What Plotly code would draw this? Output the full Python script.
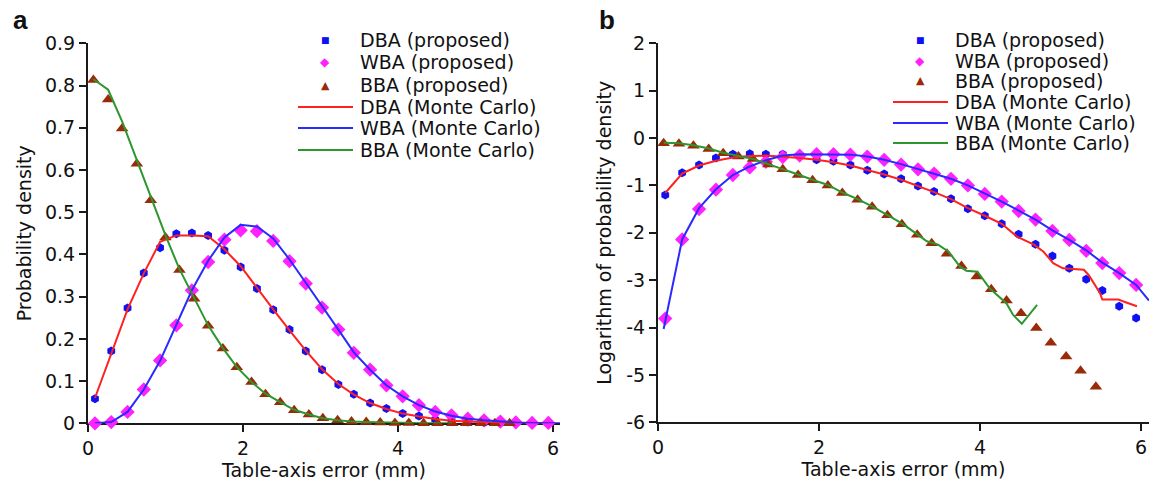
import plotly.graph_objects as go

# ---------------- data ----------------
# bin centres (mm) used by the DBA / WBA estimates
x_dw = [0.09, 0.30, 0.51, 0.72, 0.93, 1.14, 1.34, 1.55, 1.76, 1.97, 2.18, 2.39, 2.60, 2.81, 3.02,
        3.23, 3.43, 3.64, 3.85, 4.06, 4.27, 4.48, 4.69, 4.90, 5.11, 5.32, 5.52, 5.73, 5.94]
# bin centres (mm) used by the BBA estimate
x_bba = [0.07, 0.26, 0.44, 0.63, 0.81, 1.00, 1.18, 1.37, 1.55, 1.74, 1.92, 2.11, 2.29, 2.48, 2.66,
         2.85, 3.03, 3.22, 3.40, 3.59, 3.77, 3.96, 4.14, 4.33, 4.51, 4.70, 4.88, 5.07, 5.25, 5.44]

# (a) probability density
dba_prop = [0.058, 0.171, 0.273, 0.356, 0.416, 0.449, 0.451, 0.445, 0.410, 0.370, 0.319, 0.269, 0.222,
            0.171, 0.127, 0.092, 0.069, 0.048, 0.035, 0.023, 0.017, 0.009, 0.006, 0.003, 0.002, 0.001,
            0.001, 0.0, 0.0]
wba_prop = [0.0, 0.003, 0.027, 0.080, 0.149, 0.232, 0.315, 0.382, 0.435, 0.457, 0.455, 0.432, 0.384,
            0.331, 0.274, 0.222, 0.167, 0.127, 0.090, 0.064, 0.043, 0.027, 0.019, 0.011, 0.007, 0.004,
            0.002, 0.001, 0.001]
bba_prop = [0.813, 0.767, 0.698, 0.615, 0.528, 0.440, 0.363, 0.295, 0.231, 0.177, 0.133, 0.098, 0.069,
            0.050, 0.031, 0.021, 0.012, 0.007, 0.004, 0.003, 0.002, 0.001, 0.001, 0.0, 0.0, 0.0, 0.0,
            0.0, 0.0, 0.0]

dba_mc = [0.060, 0.165, 0.270, 0.355, 0.430, 0.445, 0.445, 0.443, 0.412, 0.372, 0.320, 0.270, 0.220,
          0.172, 0.128, 0.093, 0.068, 0.048, 0.034, 0.023, 0.016, 0.010, 0.006, 0.004, 0.002, 0.001,
          0.001, 0.0, 0.0]
x_wba_mc = x_dw + [6.10]
wba_mc = [0.0, 0.003, 0.027, 0.080, 0.148, 0.232, 0.315, 0.385, 0.440, 0.470, 0.466, 0.438, 0.388,
          0.333, 0.276, 0.222, 0.168, 0.127, 0.090, 0.064, 0.043, 0.028, 0.018, 0.011, 0.007, 0.004,
          0.002, 0.001, 0.001, 0.0]
x_bba_mc = x_bba[:26]
bba_mc = [0.815, 0.790, 0.715, 0.625, 0.535, 0.445, 0.365, 0.295, 0.232, 0.178, 0.133, 0.098, 0.070,
          0.050, 0.032, 0.021, 0.012, 0.007, 0.004, 0.003, 0.002, 0.001, 0.001, 0.0, 0.0, 0.0]

# (b) log10 of probability density
dba_log = [-1.20, -0.73, -0.57, -0.42, -0.34, -0.33, -0.34, -0.34, -0.38, -0.46, -0.49, -0.57, -0.68,
           -0.76, -0.86, -1.01, -1.13, -1.28, -1.49, -1.64, -1.81, -2.03, -2.24, -2.49, -2.75, -2.98,
           -3.22, -3.55, -3.80]
wba_log = [-3.81, -2.14, -1.50, -1.09, -0.78, -0.62, -0.50, -0.40, -0.37, -0.34, -0.34, -0.35, -0.39,
           -0.46, -0.56, -0.66, -0.75, -0.86, -1.00, -1.18, -1.34, -1.54, -1.72, -1.96, -2.15, -2.38,
           -2.64, -2.85, -3.10]
bba_log = [-0.11, -0.12, -0.16, -0.23, -0.32, -0.39, -0.44, -0.56, -0.66, -0.78, -0.89, -1.00, -1.16,
           -1.30, -1.45, -1.63, -1.82, -2.04, -2.22, -2.44, -2.70, -2.92, -3.19, -3.43, -3.70, -4.01,
           -4.32, -4.61, -4.91, -5.25]

x_dba_mc_log = x_dw[:21] + [4.46, 4.58, 4.67, 4.79, 4.91, 5.03, 5.29, 5.35, 5.49, 5.52, 5.72, 5.80, 5.95]
dba_mc_log = [-1.16, -0.75, -0.58, -0.48, -0.41, -0.38, -0.37, -0.39, -0.42, -0.46, -0.51, -0.58, -0.67,
              -0.77, -0.88, -1.01, -1.14, -1.29, -1.48, -1.64, -1.81,
              -2.08, -2.18, -2.25, -2.40, -2.64, -2.75, -2.78, -2.89, -3.27, -3.41, -3.41, -3.46, -3.55]
x_wba_mc_log = [0.07] + x_dw[1:] + [6.10]
wba_mc_log = [-4.03, -2.14, -1.48, -1.08, -0.78, -0.60, -0.47, -0.37, -0.34, -0.34, -0.34, -0.35, -0.39,
              -0.46, -0.55, -0.65, -0.75, -0.86, -1.00, -1.17, -1.34, -1.53, -1.72, -1.95, -2.15, -2.37,
              -2.63, -2.85, -3.10, -3.43]
x_bba_mc_log = x_bba[:17] + [3.17, 3.34, 3.48, 3.61, 3.75, 3.83, 3.97, 4.12, 4.33, 4.41, 4.52, 4.71]
bba_mc_log = [-0.10, -0.11, -0.15, -0.22, -0.31, -0.38, -0.44, -0.55, -0.65, -0.77, -0.88, -0.99, -1.15,
              -1.29, -1.44, -1.62, -1.80,
              -1.97, -2.18, -2.25, -2.40, -2.71, -2.80, -2.82, -3.17, -3.49, -3.73, -3.92, -3.52]

# tick labels
xa_ticks = [0, 2, 4, 6]
ya_ticks = [0, 0.1, 0.2, 0.3, 0.4, 0.5, 0.6, 0.7, 0.8, 0.9]
ya_labels = ["0", "0.1", "0.2", "0.3", "0.4", "0.5", "0.6", "0.7", "0.8", "0.9"]
yb_ticks = [-6, -5, -4, -3, -2, -1, 0, 1, 2]
yb_labels = ["-6", "-5", "-4", "-3", "-2", "-1", "0", "1", "2"]

legend_labels = ["DBA (proposed)", "WBA (proposed)", "BBA (proposed)",
                 "DBA (Monte Carlo)", "WBA (Monte Carlo)", "BBA (Monte Carlo)"]

# ---------------- style ----------------
W, H = 1153, 486
FONT = "DejaVu Sans"
C_DBA_PT, C_WBA_PT, C_BBA_PT = "#1010f5", "#ff22ff", "#9a2a08"
C_DBA_LN, C_WBA_LN, C_BBA_LN = "#ff2020", "#2a2aff", "#2e962e"
AX = "#1a1a1a"

marker_styles = [
    dict(symbol="hexagon", size=9, color=C_DBA_PT),
    dict(symbol="diamond", size=11, color=C_WBA_PT),
    dict(symbol="triangle-up", size=11, color=C_BBA_PT),
]
line_colors = [C_DBA_LN, C_WBA_LN, C_BBA_LN]


def px_x(p):
    return p / W


def px_y(p):
    return 1 - p / H


fig = go.Figure()

panels = [
    dict(xa="x", ya="y",
         pts=[(x_dw, dba_prop), (x_dw, wba_prop), (x_bba, bba_prop)],
         lines=[(x_dw, dba_mc), (x_wba_mc, wba_mc), (x_bba_mc, bba_mc)]),
    dict(xa="x2", ya="y2",
         pts=[(x_dw, dba_log), (x_dw, wba_log), (x_bba, bba_log)],
         lines=[(x_dba_mc_log, dba_mc_log), (x_wba_mc_log, wba_mc_log), (x_bba_mc_log, bba_mc_log)]),
]

for p in panels:
    for (xs, ys), ms in zip(p["pts"], marker_styles):
        fig.add_trace(go.Scatter(x=xs, y=ys, mode="markers", marker=dict(line=dict(width=0), **ms),
                                 xaxis=p["xa"], yaxis=p["ya"], cliponaxis=False, showlegend=False))
    for (xs, ys), c in zip(p["lines"], line_colors):
        fig.add_trace(go.Scatter(x=xs, y=ys, mode="lines", line=dict(color=c, width=2),
                                 xaxis=p["xa"], yaxis=p["ya"], cliponaxis=False, showlegend=False))

axis_common = dict(showline=True, linecolor=AX, linewidth=2.2, ticks="outside", ticklen=7,
                   tickwidth=2, tickcolor=AX, showgrid=False, zeroline=False, automargin=False,
                   layer="below traces", tickfont=dict(family=FONT, size=19, color="#111"))
title_font = dict(family=FONT, size=19, color="#111")

fig.update_layout(
    width=W, height=H, autosize=False,
    margin=dict(l=0, r=0, t=0, b=0),
    paper_bgcolor="white", plot_bgcolor="white",
    showlegend=False,
    xaxis=dict(domain=[px_x(88), px_x(560)], range=[0, 6.09], tickvals=xa_ticks, anchor="y",
               title=dict(text="Table-axis error (mm)", font=title_font, standoff=4), **axis_common),
    yaxis=dict(domain=[px_y(423.3), px_y(43.3)], range=[0, 0.9], tickvals=ya_ticks, ticktext=ya_labels,
               anchor="x", title=dict(text="Probability density", font=title_font, standoff=8),
               **axis_common),
    xaxis2=dict(domain=[px_x(658), px_x(1149)], range=[0, 6.1], tickvals=xa_ticks, anchor="y2",
                title=dict(text="Table-axis error (mm)", font=title_font, standoff=4), **axis_common),
    yaxis2=dict(domain=[px_y(422.3), px_y(43.3)], range=[-6, 2], tickvals=yb_ticks, ticktext=yb_labels,
                anchor="x2", title=dict(text="Logarithm of probability density", font=title_font, standoff=9),
                **axis_common),
)

# panel letters
for letter, (lx, ly) in zip(["a", "b"], [(20, 20), (607, 20)]):
    fig.add_annotation(text=f"<b>{letter}</b>", x=px_x(lx), y=px_y(ly), xref="paper", yref="paper",
                       showarrow=False, xanchor="center", yanchor="middle",
                       font=dict(family="Liberation Sans", size=26, color="#111"))

# legends (marker keys, line keys and labels)
legend_boxes = [
    dict(rows=[40, 62, 85, 107, 128, 150], mk_x=325, txt_x=358, ln=(298, 353)),
    dict(rows=[40, 61, 81, 102, 123, 143], mk_x=920, txt_x=953, ln=(893, 948)),
]
key_glyphs = [("■", 9), ("◆", 12), ("▲", 11)]
for box in legend_boxes:
    for i, label in enumerate(legend_labels):
        ry = box["rows"][i]
        fig.add_annotation(text=label, x=px_x(box["txt_x"]), y=px_y(ry), xref="paper", yref="paper",
                           showarrow=False, xanchor="left", yanchor="middle",
                           font=dict(family=FONT, size=19, color="#111"))
        if i < 3:
            g, s = key_glyphs[i]
            fig.add_annotation(text=g, x=px_x(box["mk_x"]), y=px_y(ry), xref="paper", yref="paper",
                               showarrow=False, xanchor="center", yanchor="middle",
                               font=dict(family=FONT, size=s, color=marker_styles[i]["color"]))
        else:
            fig.add_shape(type="line", xref="paper", yref="paper",
                          x0=px_x(box["ln"][0]), x1=px_x(box["ln"][1]), y0=px_y(ry), y1=px_y(ry),
                          line=dict(color=line_colors[i - 3], width=2.2))

fig.write_html("out.html")
